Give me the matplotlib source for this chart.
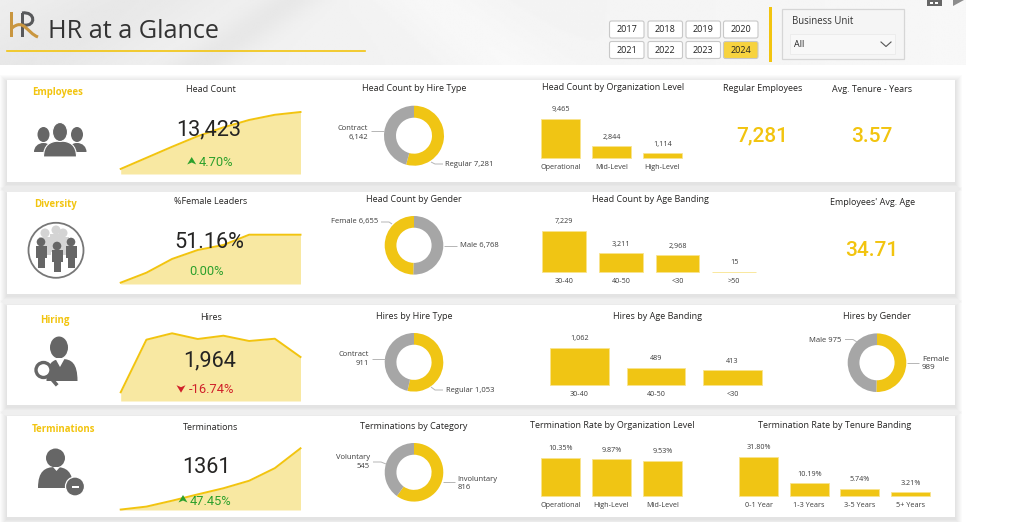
import numpy as np
import matplotlib
matplotlib.use('Agg')
import matplotlib.pyplot as plt
from matplotlib.patches import Rectangle, FancyBboxPatch, Circle, Ellipse, Polygon, PathPatch
from matplotlib.path import Path

W, H = 1021, 522
YELLOW = '#f0c514'
LINE_Y = '#f2c40f'
AREA_Y = '#f8e8a2'
EDGE_Y = '#f9e48e'
GREY = '#a6a6a6'
ICON = '#666666'
DARK = '#252423'
GREEN = '#2ca02c'
RED = '#d0202a'
LABEL = '#3c3c3c'
plt.rcParams['font.family'] = ['Open Sans', 'DejaVu Sans']

# yearly trends
years = [2017, 2018, 2019, 2020, 2021, 2022, 2023, 2024]
head_count = [1100, 3500, 5900, 8200, 10100, 11700, 12820, 13423]
female_leaders = [1.4, 11.7, 26.0, 35.3, 40.5, 51.16, 51.16, 51.16]
hires = [1202, 2338, 2476, 2353, 2424, 2310, 2359, 1964]
terminations = [10, 75, 205, 345, 480, 645, 923, 1361]

# splits
hire_type_labels = ['Regular', 'Contract']
head_by_hire_type = [7281, 6142]
gender_labels = ['Male', 'Female']
head_by_gender = [6768, 6655]
hires_by_hire_type = [1053, 911]
term_labels = ['Involuntary', 'Voluntary']
term_by_category = [816, 545]
hires_by_gender = [989, 975]

# bar charts
org_levels = ['Operational', 'Mid-Level', 'High-Level']
head_by_org = [9465, 2844, 1114]
age_bands = ['30-40', '40-50', '<30', '>50']
head_by_age = [7229, 3211, 2968, 15]
hire_age_bands = ['30-40', '40-50', '<30']
hires_by_age = [1062, 489, 413]
term_org_levels = ['Operational', 'High-Level', 'Mid-Level']
term_rate_org = [10.35, 9.87, 9.53]
tenure_bands = ['0-1 Year', '1-3 Years', '3-5 Years', '5+ Years']
term_rate_tenure = [31.80, 10.19, 5.74, 3.21]

year_buttons = [[2017, 2018, 2019, 2020], [2021, 2022, 2023, 2024]]
selected_year = 2024

fig = plt.figure(figsize=(W / 100, H / 100), dpi=100, facecolor='white')


def pixel_axes(left, top, right, bottom, z=1):
    ax = fig.add_axes([left / W, 1 - bottom / H, (right - left) / W, (bottom - top) / H], zorder=z)
    ax.patch.set_alpha(0)
    return ax


bg = pixel_axes(0, 0, W, H, 0)
bg.axis('off')
fg = pixel_axes(0, 0, W, H, 5)
fg.set_xlim(0, W)
fg.set_ylim(H, 0)
fg.axis('off')

# header band, soft diagonal streaks on a light grey wash
xx, yy = np.meshgrid(np.linspace(0, 965, 400), np.linspace(0, 65, 60))
shade = 0.935 + 0.035 * xx / 965
shade -= 0.03 * np.exp(-((xx + 1.6 * yy - 130) / 90) ** 2)
shade -= 0.035 * np.exp(-((xx + 1.4 * yy - 290) / 30) ** 2)
shade += 0.02 * np.exp(-((xx - 1.2 * yy - 430) / 60) ** 2)
bg.imshow(shade, extent=(0, 965, 65, 0), cmap='gray', vmin=0, vmax=1, aspect='auto', zorder=0)
bg.set_xlim(0, W)
bg.set_ylim(H, 0)

# section panels with a soft shadow falling below
for top, bottom in [(80, 182), (192, 294), (305, 405), (416, 517)]:
    for grow in [7, 6, 5, 4, 3, 2, 1]:
        bg.add_patch(Rectangle((7 - grow, top - grow + 1.5), 948 + 2 * grow, bottom - top + 2 * grow,
                               fc='black', ec='none', alpha=0.015, zorder=1))
    bg.add_patch(Rectangle((7, top), 948, bottom - top, fc='white', ec='none', zorder=2))


def title(x, y, s, size=6.45):
    fg.text(x, y + 0.6, s, ha='center', va='center', fontsize=size, color=DARK)


def small(x, y, s, ha='left', size=5.5):
    fg.text(x, y, s, ha=ha, va='center', fontsize=size, color=LABEL, linespacing=1.25)


def big(x, y, s, color=DARK, size=15.6, ha='center', weight='normal'):
    fg.text(x, y + 0.5, s, ha=ha, va='center', fontsize=size, color=color, fontweight=weight,
            family=['Roboto', 'DejaVu Sans'])


def leader(points):
    xs, ys = zip(*points)
    fg.plot(xs, ys, color='#b5b5b5', lw=0.7, solid_capstyle='butt')


def spark(values, top, bottom, floor=0, left=120.7, right=300.5):
    ax = pixel_axes(left, top, right, bottom)
    ax.fill_between(years, values, floor, color=AREA_Y, lw=0)
    ax.plot(years, values, color=LINE_Y, lw=1.4, clip_on=False, solid_joinstyle='round')
    ax.set_xlim(years[0], years[-1])
    ax.set_ylim(floor, max(values))
    ax.axis('off')


def donut(values, colors, cx, cy, r=29.5):
    ax = pixel_axes(cx - r, cy - r, cx + r, cy + r)
    ax.pie(values, colors=colors, startangle=90, counterclock=False, radius=1,
           wedgeprops={'width': 0.4, 'lw': 0})
    ax.set_xlim(-1, 1)
    ax.set_ylim(-1, 1)


def bars(cats, values, x0, step, w, baseline, height, fmt='{:,}'):
    half = w / step / 2
    ax = pixel_axes(x0, baseline - height, x0 + step * (len(cats) - 1) + w, baseline)
    pos = range(len(cats))
    ax.bar(pos, values, width=w / step, color=YELLOW, edgecolor=EDGE_Y, lw=0.6, clip_on=False)
    ax.set_xlim(-half, len(cats) - 1 + half)
    ax.set_ylim(0, max(values))
    ax.set_yticks([])
    ax.set_xticks(list(pos), cats, fontsize=5.2, color=LABEL)
    ax.tick_params(axis='x', length=0, pad=4.6)
    for s in ax.spines.values():
        s.set_visible(False)
    for i, v in zip(pos, values):
        ax.annotate(fmt.format(v), (i, v), xytext=(0, 6.3), textcoords='offset points',
                    ha='center', va='center', fontsize=5.2, color=LABEL, annotation_clip=False)


def arrow_up(x, y):
    fg.add_patch(Polygon([(x - 4.5, y + 3.5), (x, y - 4), (x + 4.5, y + 3.5), (x, y + 1.5)], fc=GREEN, ec='none'))


def arrow_down(x, y):
    fg.add_patch(Polygon([(x - 4.5, y - 3.5), (x, y + 4), (x + 4.5, y - 3.5), (x, y - 1.5)], fc=RED, ec='none'))


# header content
fg.text(48, 31, 'HR at a Glance', ha='left', va='center', fontsize=18.2, color='#333333')
fg.plot([7, 365], [50.6, 50.6], color=LINE_Y, lw=1.2)
fg.add_patch(Rectangle((10, 12), 3.2, 25, fc='#c9963f', ec='none'))
fg.add_patch(Rectangle((21, 13), 3.2, 24, fc='#58595b', ec='none'))
fg.add_patch(PathPatch(Path([(22, 13), (36, 11), (36, 27), (24, 25)],
                            [Path.MOVETO, Path.CURVE4, Path.CURVE4, Path.CURVE4]),
                       fc='none', ec='#58595b', lw=2.2))
fg.add_patch(PathPatch(Path([(12, 28), (24, 18), (27, 33), (38, 37)],
                            [Path.MOVETO, Path.CURVE4, Path.CURVE4, Path.CURVE4]),
                       fc='none', ec='#c9963f', lw=2.2))

button_lefts = [609.5, 648, 686, 723.5]
button_tops = [21, 41.5]
for top, row in zip(button_tops, year_buttons):
    for left, year in zip(button_lefts, row):
        on = year == selected_year
        fg.add_patch(FancyBboxPatch((left + 2, top + 2), 30.5, 13, boxstyle='round,pad=2',
                                    fc='#f7d33f' if on else 'white', ec='#c8c8c8', lw=0.8))
        fg.text(left + 17.2, top + 8.8, str(year), ha='center', va='center', fontsize=6.5, color='#222222')

fg.add_patch(Rectangle((769.3, 7), 3, 55, fc=LINE_Y, ec='none'))
fg.add_patch(Rectangle((781.5, 8.5), 122, 50, fc='#f5f5f5', ec='#d6d6d6', lw=0.9))
fg.add_patch(Rectangle((789.5, 33.5), 105, 20, fc='#f8f8f8', ec='#ececec', lw=0.7))
fg.text(792, 21, 'Business Unit', ha='left', va='center', fontsize=6.9, color='#333333')
fg.text(794, 44.7, 'All', ha='left', va='center', fontsize=6.5, color='#222222')
fg.plot([881, 886, 891], [42, 46.5, 42], color='#555555', lw=0.8)

# page controls at the top edge
fg.add_patch(Rectangle((927, 0), 15, 6, fc='#666666', ec='none'))
fg.add_patch(Rectangle((930, 2), 2.5, 2, fc='white', ec='none'))
fg.add_patch(Rectangle((935, 2), 2.5, 2, fc='white', ec='none'))
fg.add_patch(Polygon([(953, 0), (953, 6), (964, 0)], fc='#8c8c8c', ec='none'))

# section names
for x, y, s in [(58, 93, 'Employees'), (55, 204, 'Diversity'), (55, 320, 'Hiring'), (63, 430, 'Terminations')]:
    fg.text(x, y, s, ha='center', va='center', fontsize=6.9, color=LINE_Y, fontweight='bold')

# employees row
title(211, 88.5, 'Head Count')
title(414, 87.7, 'Head Count by Hire Type')
title(613, 86.7, 'Head Count by Organization Level')
title(763, 87.7, 'Regular Employees')
title(872, 88.7, 'Avg. Tenure - Years')
spark(head_count, 112, 174)
big(209, 129, '13,423')
arrow_up(191.7, 161)
big(199, 162, '4.70%', GREEN, 9.3, 'left')
donut(head_by_hire_type, [YELLOW, GREY], 414, 135.7, 30)
small(368, 133, f'{hire_type_labels[1]}\n{head_by_hire_type[1]:,}', 'right')
small(445, 164, f'{hire_type_labels[0]} {head_by_hire_type[0]:,}')
leader([(371, 131), (384, 131)])
leader([(431, 162), (435, 164), (443, 164)])
bars(org_levels, head_by_org, 541, 51, 39, 157.7, 39)
big(762.5, 135, f'{head_by_hire_type[0]:,}', LINE_Y, 15, weight='medium')
big(872, 136, '3.57', LINE_Y, 15, weight='medium')

# diversity row
title(211, 200.7, '%Female Leaders')
title(414, 198.7, 'Head Count by Gender')
title(650, 198.7, 'Head Count by Age Banding')
title(872.7, 201.7, "Employees' Avg. Age")
spark(female_leaders, 234.7, 284)
big(209, 242, '51.16%')
big(206, 271, '0.00%', GREEN, 9.3)
donut(head_by_gender, [GREY, YELLOW], 414, 245.3, 29.3)
small(378.7, 222, f'{gender_labels[1]} {head_by_gender[1]:,}', 'right')
small(459.7, 246, f'{gender_labels[0]} {head_by_gender[0]:,}')
leader([(381, 222), (389, 222), (392, 224)])
leader([(444, 246), (457, 246)])
bars(age_bands, head_by_age, 542.3, 56.67, 43.7, 271.7, 41)
big(872, 250, '34.71', LINE_Y, 15, weight='medium')

# hiring row
title(211, 316.7, 'Hires')
title(414, 315.7, 'Hires by Hire Type')
title(657.7, 315.7, 'Hires by Age Banding')
title(877, 315.7, 'Hires by Gender')
spark(hires, 333.3, 401, floor=1014)
big(210, 360, f'{1964:,}')
arrow_down(181, 388.7)
big(189, 388.7, '-16.74%', RED, 9.3, 'left')
donut(hires_by_hire_type, [YELLOW, GREY], 414, 362.3, 29.3)
small(369, 359, f'{hire_type_labels[1]}\n{hires_by_hire_type[1]:,}', 'right')
small(445.7, 390, f'{hire_type_labels[0]} {hires_by_hire_type[0]:,}')
leader([(372, 359), (385, 359)])
leader([(431, 387), (435, 390), (443, 390)])
bars(hire_age_bands, hires_by_age, 550.3, 76.5, 58.3, 384.7, 37)
donut(hires_by_gender, [YELLOW, GREY], 877, 362.7, 29.3)
small(841.7, 340, f'{gender_labels[0]} {hires_by_gender[1]:,}', 'right')
small(922, 363.5, f'{gender_labels[1]}\n{hires_by_gender[0]:,}', size=5.8)
leader([(845, 339.5), (853, 339.5), (857, 342)])
leader([(907, 363), (919, 363)])

# terminations row
title(210.7, 426.7, 'Terminations')
title(414, 425.7, 'Terminations by Category')
title(612.7, 424.7, 'Termination Rate by Organization Level')
title(835, 424.7, 'Termination Rate by Tenure Banding')
spark(terminations, 448.3, 510)
big(206, 467, str(terminations[-1]))
arrow_up(183, 499)
big(190, 501, '47.45%', GREEN, 9.3, 'left')
donut(term_by_category, [YELLOW, GREY], 414, 472.3, 29.3)
small(370, 462, f'{term_labels[1]}\n{term_by_category[1]}', 'right')
small(457.7, 483.3, f'{term_labels[0]}\n{term_by_category[0]}')
leader([(373, 462), (381, 462), (386, 464)])
leader([(443, 482), (455, 482)])
bars(term_org_levels, term_rate_org, 541, 51, 39, 495.7, 38, '{:.2f}%')
bars(tenure_bands, term_rate_tenure, 739, 50.67, 39, 495.7, 39, '{:.2f}%')


def bust(x, head_y, head_w, head_h, body_w, body_top, body_bottom, color=ICON, z=3, halo=False):
    # head and shoulders, the shoulders being a bell shaped curve
    l, r = x - body_w / 2, x + body_w / 2
    verts = [(l, body_bottom), (l, body_top + 4), (x - body_w * 0.3, body_top), (x, body_top),
             (x + body_w * 0.3, body_top), (r, body_top + 4), (r, body_bottom), (l, body_bottom)]
    codes = [Path.MOVETO, Path.CURVE4, Path.CURVE4, Path.CURVE4, Path.CURVE4, Path.CURVE4, Path.CURVE4, Path.CLOSEPOLY]
    ec = 'white' if halo else 'none'
    fg.add_patch(PathPatch(Path(verts, codes), fc=color, ec=ec, lw=0.8, zorder=z))
    fg.add_patch(Ellipse((x, head_y), head_w, head_h, fc=color, ec=ec, lw=0.8, zorder=z + 0.1))


# employees icon
bust(43.5, 134.5, 12, 15, 19, 143, 152)
bust(77, 134.5, 12, 15, 19, 143, 152)
bust(60, 132, 15, 19, 33, 141, 157, z=4, halo=True)

# diversity icon
fg.add_patch(Circle((56, 250.3), 27.5, fc='white', ec='#777777', lw=1.3, zorder=3))
for x, y in [(45, 233), (56, 230), (63, 233)]:
    fg.add_patch(Circle((x, y), 4.5, fc='#d4d4d4', ec='none', zorder=3.2))
    fg.add_patch(Rectangle((x - 6, y + 4), 12, 18, fc='#d4d4d4', ec='none', zorder=3.2))
for x, y in [(41, 242), (57, 246), (71, 242)]:
    fg.add_patch(Circle((x, y), 4.3, fc=ICON, ec='none', zorder=4))
    fg.add_patch(Polygon([(x - 5.5, y + 4), (x + 5.5, y + 4), (x + 5.5, y + 16), (x + 3.5, y + 16), (x + 3.5, y + 26),
                          (x - 3.5, y + 26), (x - 3.5, y + 16), (x - 5.5, y + 16)], fc=ICON, ec='none', zorder=4))

# hiring icon
fg.add_patch(Ellipse((59, 347.5), 18, 22, fc=ICON, ec='none', zorder=3))
bust(62, 0, 0, 0, 31, 359, 381)
fg.add_patch(Polygon([(55, 358), (65, 358), (60, 367)], fc='white', ec='none', zorder=3.5))
fg.add_patch(Circle((43.5, 370), 7.5, fc='white', ec=ICON, lw=2.4, zorder=4))
fg.plot([49, 56], [376, 384], color=ICON, lw=2.6, zorder=4)

# terminations icon
bust(55.5, 458, 19, 19, 35, 467, 488)
fg.add_patch(Polygon([(53, 467), (60, 467), (56.5, 471)], fc='white', ec='none', zorder=3.5))
fg.add_patch(Circle((75, 486.5), 9.5, fc=ICON, ec='white', lw=0.9, zorder=4))
fg.add_patch(Rectangle((71.5, 485.5), 7, 2.2, fc='white', ec='none', zorder=5))

fig.savefig('out.png', dpi=100)
